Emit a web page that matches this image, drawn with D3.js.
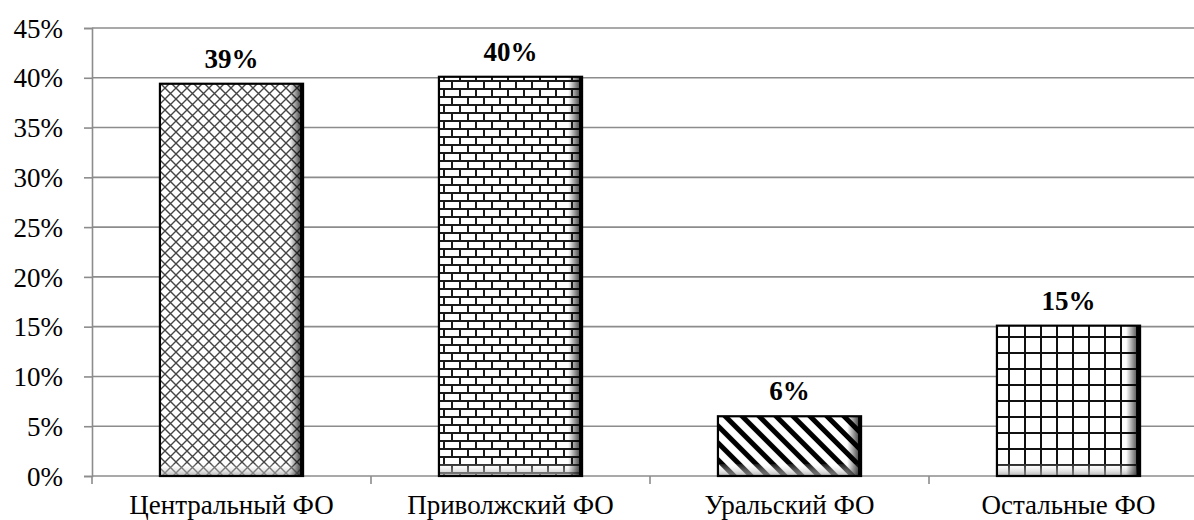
<!DOCTYPE html>
<html>
<head>
<meta charset="utf-8">
<script src="https://cdn.jsdelivr.net/npm/d3@7"></script>
<style>
  html, body { margin: 0; padding: 0; background: #fff; }
  svg { display: block; }
  svg text { font-family: "Liberation Serif", "Times New Roman", Times, "DejaVu Serif", serif; fill: #000; }
</style>
</head>
<body>
<svg id="chart" width="1194" height="520"></svg>
<script>
// Share of the total by federal district
const categories = ["Центральный ФО", "Приволжский ФО", "Уральский ФО", "Остальные ФО"];
const shares = [0.394, 0.401, 0.06, 0.151];
const patternIds = ["crosshatch", "brick", "stripes", "grid"];
const yTicks = [0, 0.05, 0.10, 0.15, 0.20, 0.25, 0.30, 0.35, 0.40, 0.45];

(function drawChart() {
const svg = d3.select("#chart");
const W = 1194;
const plotLeft = 92, plotRight = 1208, plotTop = 28, plotBottom = 476;
const serif = "'Liberation Serif', 'Times New Roman', Times, 'DejaVu Serif', serif";

const x = d3.scaleBand().domain(categories).range([plotLeft, plotRight])
  .paddingInner(0.487).paddingOuter(0.2435);
const y = d3.scaleLinear().domain([0, 0.45]).range([plotBottom, plotTop]);

const defs = svg.append("defs");

// diagonal cross-hatch
const p1 = defs.append("pattern").attr("id", "crosshatch").attr("patternUnits", "userSpaceOnUse")
  .attr("width", 11).attr("height", 11);
p1.append("rect").attr("width", 11).attr("height", 11).attr("fill", "#fff");
p1.append("path").attr("d", "M-1,-1 L12,12 M-1,12 L12,-1")
  .attr("stroke", "#444").attr("stroke-width", 1.4).attr("fill", "none");

// brick
const p2 = defs.append("pattern").attr("id", "brick").attr("patternUnits", "userSpaceOnUse")
  .attr("width", 16).attr("height", 16);
p2.append("rect").attr("width", 16).attr("height", 16).attr("fill", "#fff");
p2.append("path").attr("d", "M0,1 H16 M0,9 H16 M4,1 V9 M12,9 V17")
  .attr("stroke", "#1a1a1a").attr("stroke-width", 2).attr("fill", "none");

// wide diagonal stripes
const p3 = defs.append("pattern").attr("id", "stripes").attr("patternUnits", "userSpaceOnUse")
  .attr("width", 12).attr("height", 12).attr("patternTransform", "rotate(-45)");
p3.append("rect").attr("width", 12).attr("height", 12).attr("fill", "#fff");
p3.append("rect").attr("x", 0).attr("y", 0).attr("width", 5).attr("height", 12).attr("fill", "#000");

// square grid
const p4 = defs.append("pattern").attr("id", "grid").attr("patternUnits", "userSpaceOnUse")
  .attr("width", 16).attr("height", 16);
p4.append("rect").attr("width", 16).attr("height", 16).attr("fill", "#fff");
p4.append("path").attr("d", "M0,1 H16 M1,0 V16")
  .attr("stroke", "#111").attr("stroke-width", 2).attr("fill", "none");

// bevel shading
const gR = defs.append("linearGradient").attr("id", "shadeR").attr("x1", 0).attr("x2", 1).attr("y1", 0).attr("y2", 0);
gR.append("stop").attr("offset", 0).attr("stop-color", "#000").attr("stop-opacity", 0);
gR.append("stop").attr("offset", 1).attr("stop-color", "#000").attr("stop-opacity", 0.85);
const gB = defs.append("linearGradient").attr("id", "shadeB").attr("x1", 0).attr("x2", 0).attr("y1", 0).attr("y2", 1);
gB.append("stop").attr("offset", 0).attr("stop-color", "#fff").attr("stop-opacity", 0.1);
gB.append("stop").attr("offset", 1).attr("stop-color", "#999").attr("stop-opacity", 0.75);

// horizontal gridlines
svg.append("g").selectAll("line").data(yTicks.slice(1)).join("line")
  .attr("x1", plotLeft).attr("x2", W)
  .attr("y1", d => y(d)).attr("y2", d => y(d))
  .attr("stroke", "#8c8c8c").attr("stroke-width", 1.6);

// y axis
const yAxis = svg.append("g").attr("transform", `translate(${plotLeft},0)`)
  .call(d3.axisLeft(y).tickValues(yTicks).tickFormat(d3.format(".0%")).tickSize(8).tickPadding(21));
yAxis.attr("font-family", null).attr("font-size", null);
yAxis.select(".domain").attr("stroke", "#8c8c8c").attr("stroke-width", 1.6);
yAxis.selectAll(".tick line").attr("stroke", "#8c8c8c").attr("stroke-width", 1.6);
yAxis.selectAll(".tick text").style("font-size", "27px").style("font-family", serif)
  .attr("x", -29).attr("fill", "#000").attr("dy", "0.34em");

// x axis baseline with boundary ticks
const xAxis = svg.append("g").attr("transform", `translate(0,${plotBottom})`);
xAxis.append("line").attr("x1", plotLeft).attr("x2", W).attr("stroke", "#8c8c8c").attr("stroke-width", 1.6);
const bounds = categories.map((c, i) => plotLeft + x.step() * (i + 1)).filter(v => v < W);
xAxis.selectAll(".bt").data([plotLeft].concat(bounds)).join("line").attr("class", "bt")
  .attr("x1", d => d).attr("x2", d => d).attr("y1", 0).attr("y2", 8)
  .attr("stroke", "#8c8c8c").attr("stroke-width", 1.6);
xAxis.selectAll(".cl").data(categories).join("text").attr("class", "cl")
  .attr("x", d => x(d) + x.bandwidth() / 2).attr("y", 38)
  .attr("text-anchor", "middle").style("font-size", "27px").style("font-family", serif).text(d => d);

// bars
const bars = svg.append("g").selectAll("g").data(categories).join("g");
bars.each(function(c, i) {
  const g = d3.select(this);
  const bx = x(c), bw = x.bandwidth(), by = y(shares[i]), bh = plotBottom - y(shares[i]);
  g.append("rect").attr("x", bx).attr("y", by).attr("width", bw).attr("height", bh)
    .attr("fill", `url(#${patternIds[i]})`);
  // bottom bevel
  g.append("rect").attr("x", bx).attr("y", plotBottom - Math.min(12, bh)).attr("width", bw).attr("height", Math.min(12, bh))
    .attr("fill", "url(#shadeB)");
  // right bevel
  g.append("rect").attr("x", bx + bw - 14).attr("y", by).attr("width", 14).attr("height", bh)
    .attr("fill", "url(#shadeR)");
  g.append("rect").attr("x", bx).attr("y", by).attr("width", bw).attr("height", bh)
    .attr("fill", "none").attr("stroke", "#000").attr("stroke-width", 2.2);
  g.append("rect").attr("x", bx + bw - 3).attr("y", by).attr("width", 3).attr("height", bh).attr("fill", "#000");
});

// value labels
svg.append("g").selectAll("text").data(categories).join("text")
  .attr("x", d => x(d) + x.bandwidth() / 2)
  .attr("y", (d, i) => y(shares[i]) - 16)
  .attr("text-anchor", "middle").style("font-size", "27px").style("font-weight", "bold").style("font-family", serif)
  .text((d, i) => d3.format(".0%")(shares[i]));
})();
</script>
</body>
</html>
